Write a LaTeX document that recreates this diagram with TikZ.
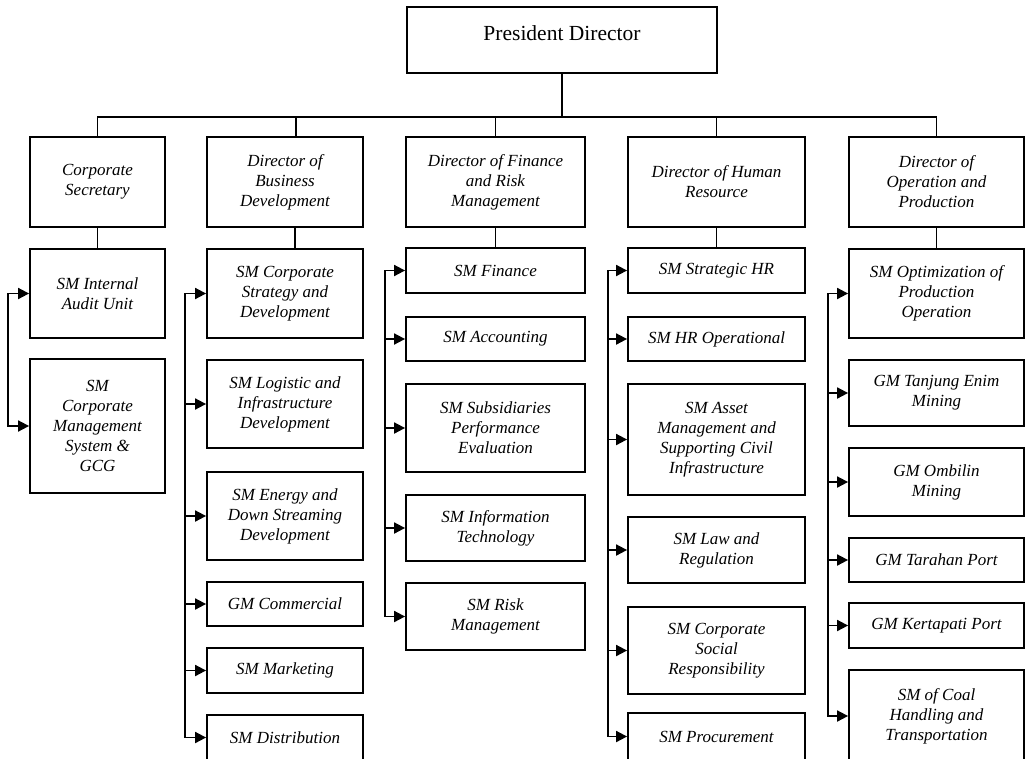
\documentclass[tikz,border=0pt]{standalone}
\usepackage{fontspec}
\setmainfont{Liberation Serif}
\usetikzlibrary{arrows.meta}

\begin{document}
\begin{tikzpicture}[x=1pt,y=-1pt]
\tikzstyle{every node}+=[inner sep=0pt]
\tikzstyle{unit}=[draw, line width=1.8pt, align=center, font=\fontsize{17}{20}\selectfont\itshape]
\tikzstyle{link}=[line width=1.8pt, line cap=rect]
\tikzstyle{feed}=[line width=1.8pt, -{Triangle[length=11pt,width=11pt]}]
\useasboundingbox (0,0) rectangle (1027,758);
% top
\node[unit, font=\fontsize{21.5}{24}\selectfont, minimum width=310pt, minimum height=66pt, text height=8pt, text depth=8pt] (pd) at (562,40) {President Director};
% directors
\node[unit, minimum width=135pt, minimum height=90pt] (cs) at (97.5,182) {Corporate\\Secretary};
\node[unit, minimum width=156pt, minimum height=90pt] (bd) at (285,182) {Director of\\Business\\Development};
\node[unit, minimum width=179pt, minimum height=90pt] (fr) at (495.5,182) {Director of Finance\\and Risk\\Management};
\node[unit, minimum width=177pt, minimum height=90pt] (hr) at (716.5,182) {Director of Human\\Resource};
\node[unit, minimum width=175pt, minimum height=90pt] (op) at (936.5,182) {Director of\\Operation and\\Production};
% corporate secretary
\node[unit, minimum width=135pt, minimum height=89pt] (a1) at (97.5,293.5) {SM Internal\\Audit Unit};
\node[unit, minimum width=135pt, minimum height=134pt] (a2) at (97.5,426) {SM\\Corporate\\Management\\System \&\\GCG};
% business development
\node[unit, minimum width=156pt, minimum height=89pt] (b1) at (285,293.5) {SM Corporate\\Strategy and\\Development};
\node[unit, minimum width=156pt, minimum height=88pt] (b2) at (285,404) {SM Logistic and\\Infrastructure\\Development};
\node[unit, minimum width=156pt, minimum height=88pt] (b3) at (285,516) {SM Energy and\\Down Streaming\\Development};
\node[unit, minimum width=156pt, minimum height=44pt] (b4) at (285,604) {GM Commercial};
\node[unit, minimum width=156pt, minimum height=45pt] (b5) at (285,670.5) {SM Marketing};
\node[unit, minimum width=156pt, minimum height=45pt] (b6) at (285,737.5) {SM Distribution};
% finance and risk
\node[unit, minimum width=179pt, minimum height=45pt] (c1) at (495.5,270.5) {SM Finance};
\node[unit, minimum width=179pt, minimum height=44pt] (c2) at (495.5,339) {SM Accounting};
\node[unit, minimum width=179pt, minimum height=88pt] (c3) at (495.5,428) {SM Subsidiaries\\Performance\\Evaluation};
\node[unit, minimum width=179pt, minimum height=66pt] (c4) at (495.5,528) {SM Information\\Technology};
\node[unit, minimum width=179pt, minimum height=67pt] (c5) at (495.5,616.5) {SM Risk\\Management};
% human resource
\node[unit, minimum width=177pt, minimum height=45pt] (d1) at (716.5,270.5) {SM Strategic HR};
\node[unit, minimum width=177pt, minimum height=44pt] (d2) at (716.5,339) {SM HR Operational};
\node[unit, minimum width=177pt, minimum height=111pt] (d3) at (716.5,439.5) {SM Asset\\Management and\\Supporting Civil\\Infrastructure};
\node[unit, minimum width=177pt, minimum height=66pt] (d4) at (716.5,550) {SM Law and\\Regulation};
\node[unit, minimum width=177pt, minimum height=87pt] (d5) at (716.5,650.5) {SM Corporate\\Social\\Responsibility};
\node[unit, minimum width=177pt, minimum height=47pt] (d6) at (716.5,736.5) {SM Procurement};
% operation and production
\node[unit, minimum width=175pt, minimum height=89pt] (e1) at (936.5,293.5) {SM Optimization of\\Production\\Operation};
\node[unit, minimum width=175pt, minimum height=66pt] (e2) at (936.5,393) {GM Tanjung Enim\\Mining};
\node[unit, minimum width=175pt, minimum height=68pt] (e3) at (936.5,482) {GM Ombilin\\Mining};
\node[unit, minimum width=175pt, minimum height=44pt] (e4) at (936.5,560) {GM Tarahan Port};
\node[unit, minimum width=175pt, minimum height=45pt] (e5) at (936.5,625.5) {GM Kertapati Port};
\node[unit, minimum width=175pt, minimum height=92pt] (e6) at (936.5,716) {SM of Coal\\Handling and\\Transportation};
% bus and rails
\coordinate (bus) at (562,117);
\coordinate (rail1) at (8,0);
\coordinate (rail2) at (185,0);
\coordinate (rail3) at (385,0);
\coordinate (rail4) at (608,0);
\coordinate (rail5) at (828,0);
\draw[link] (pd.south) -- (bus);
\draw[link] (cs.north) |- (op.north |- bus) -- (op.north);
\draw[link] ([xshift=11pt]bd.north) -- ([xshift=11pt]bd.north |- bus);
\draw[link] (fr.north) -- (fr.north |- bus);
\draw[link] (hr.north) -- (hr.north |- bus);
\draw[link] (cs.south) -- (a1.north);
\draw[link] ([xshift=10pt]bd.south) -- ([xshift=10pt]b1.north);
\draw[link] (fr.south) -- (c1.north);
\draw[link] (hr.south) -- (d1.north);
\draw[link] (op.south) -- (e1.north);
% rail lines
\draw[link] (a1.west -| rail1) -- (a2.west -| rail1);
\draw[link] (b1.west -| rail2) -- (b6.west -| rail2);
\draw[link] (c1.west -| rail3) -- (c5.west -| rail3);
\draw[link] (d1.west -| rail4) -- (d6.west -| rail4);
\draw[link] (e1.west -| rail5) -- (e6.west -| rail5);
% arrows
\draw[feed] (a1.west -| rail1) -- (a1.west);
\draw[feed] (a2.west -| rail1) -- (a2.west);
\draw[feed] (b1.west -| rail2) -- (b1.west);
\draw[feed] (b2.west -| rail2) -- (b2.west);
\draw[feed] (b3.west -| rail2) -- (b3.west);
\draw[feed] (b4.west -| rail2) -- (b4.west);
\draw[feed] (b5.west -| rail2) -- (b5.west);
\draw[feed] (b6.west -| rail2) -- (b6.west);
\draw[feed] (c1.west -| rail3) -- (c1.west);
\draw[feed] (c2.west -| rail3) -- (c2.west);
\draw[feed] (c3.west -| rail3) -- (c3.west);
\draw[feed] (c4.west -| rail3) -- (c4.west);
\draw[feed] (c5.west -| rail3) -- (c5.west);
\draw[feed] (d1.west -| rail4) -- (d1.west);
\draw[feed] (d2.west -| rail4) -- (d2.west);
\draw[feed] (d3.west -| rail4) -- (d3.west);
\draw[feed] (d4.west -| rail4) -- (d4.west);
\draw[feed] (d5.west -| rail4) -- (d5.west);
\draw[feed] (d6.west -| rail4) -- (d6.west);
\draw[feed] (e1.west -| rail5) -- (e1.west);
\draw[feed] (e2.west -| rail5) -- (e2.west);
\draw[feed] (e3.west -| rail5) -- (e3.west);
\draw[feed] (e4.west -| rail5) -- (e4.west);
\draw[feed] (e5.west -| rail5) -- (e5.west);
\draw[feed] (e6.west -| rail5) -- (e6.west);
\end{tikzpicture}
\end{document}
